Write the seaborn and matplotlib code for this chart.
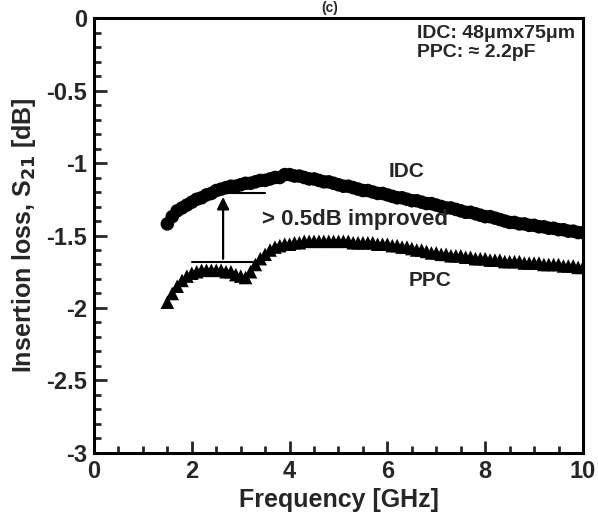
import numpy as np
import pandas as pd
import matplotlib
matplotlib.use('Agg')
import matplotlib.pyplot as plt
from matplotlib.ticker import MultipleLocator, FuncFormatter
import seaborn as sns

# frequency sweep [GHz]
freq = [1.5, 1.6, 1.7, 1.8, 1.9, 2.0, 2.1, 2.2, 2.3, 2.4,
        2.5, 2.6, 2.7, 2.8, 2.9, 3.0, 3.1, 3.2, 3.3, 3.4,
        3.5, 3.6, 3.7, 3.8, 3.9, 4.0, 4.1, 4.2, 4.3, 4.4,
        4.5, 4.6, 4.7, 4.8, 4.9, 5.0, 5.1, 5.2, 5.3, 5.4,
        5.5, 5.6, 5.7, 5.8, 5.9, 6.0, 6.1, 6.2, 6.3, 6.4,
        6.5, 6.6, 6.7, 6.8, 6.9, 7.0, 7.1, 7.2, 7.3, 7.4,
        7.5, 7.6, 7.7, 7.8, 7.9, 8.0, 8.1, 8.2, 8.3, 8.4,
        8.5, 8.6, 8.7, 8.8, 8.9, 9.0, 9.1, 9.2, 9.3, 9.4,
        9.5, 9.6, 9.7, 9.8, 9.9, 10.0]

s21_idc = [-1.42, -1.37, -1.33, -1.31, -1.29, -1.27, -1.25, -1.24, -1.22, -1.21,
           -1.19, -1.18, -1.17, -1.16, -1.16, -1.15, -1.14, -1.14, -1.13, -1.12,
           -1.12, -1.11, -1.10, -1.10, -1.08, -1.08, -1.09, -1.09, -1.10, -1.11,
           -1.11, -1.12, -1.13, -1.13, -1.14, -1.15, -1.16, -1.16, -1.17, -1.18,
           -1.19, -1.19, -1.20, -1.21, -1.21, -1.22, -1.23, -1.24, -1.24, -1.25,
           -1.26, -1.26, -1.27, -1.28, -1.28, -1.29, -1.30, -1.31, -1.31, -1.32,
           -1.33, -1.34, -1.34, -1.35, -1.36, -1.37, -1.37, -1.38, -1.39, -1.40,
           -1.41, -1.41, -1.42, -1.42, -1.43, -1.43, -1.44, -1.44, -1.45, -1.45,
           -1.46, -1.46, -1.47, -1.47, -1.48, -1.48]

s21_ppc = [-1.96, -1.90, -1.85, -1.81, -1.78, -1.76, -1.75, -1.74, -1.74, -1.74,
           -1.74, -1.74, -1.75, -1.75, -1.77, -1.78, -1.79, -1.75, -1.70, -1.66,
           -1.63, -1.60, -1.58, -1.57, -1.56, -1.56, -1.55, -1.55, -1.54, -1.54,
           -1.54, -1.54, -1.54, -1.54, -1.54, -1.54, -1.54, -1.54, -1.55, -1.55,
           -1.55, -1.55, -1.55, -1.56, -1.56, -1.56, -1.57, -1.57, -1.58, -1.58,
           -1.59, -1.60, -1.60, -1.61, -1.62, -1.62, -1.63, -1.63, -1.64, -1.64,
           -1.64, -1.65, -1.65, -1.66, -1.66, -1.66, -1.67, -1.67, -1.67, -1.68,
           -1.68, -1.68, -1.68, -1.69, -1.69, -1.69, -1.69, -1.70, -1.70, -1.70,
           -1.70, -1.71, -1.71, -1.71, -1.72, -1.72]

# improvement marker: reference levels [dB] and arrow position [GHz]
level_idc = -1.205
level_ppc = -1.68
arrow_f = 2.64


def main():
    sns.set_style('ticks')
    plt.rcParams['font.family'] = ['Liberation Sans', 'DejaVu Sans']
    plt.rcParams['font.weight'] = 'bold'
    plt.rcParams['mathtext.default'] = 'bf'

    df = pd.DataFrame({'f': freq * 2,
                       's21': s21_idc + s21_ppc,
                       'cap': ['IDC'] * len(freq) + ['PPC'] * len(freq)})

    fig = plt.figure(figsize=(5.98, 5.22), dpi=100)
    ax = fig.add_axes([0.1572, 0.1322, 0.8177, 0.8333])

    sns.scatterplot(data=df, x='f', y='s21', style='cap', markers={'IDC': 'o', 'PPC': '^'},
                    color='black', s=95, linewidth=0, legend=False, ax=ax)

    # > 0.5 dB improvement annotation
    ax.plot([arrow_f, 3.5], [level_idc, level_idc], color='black', lw=1.5)
    ax.plot([2.0, 3.3], [level_ppc, level_ppc], color='black', lw=1.5)
    ax.annotate('', xy=(arrow_f, level_idc - 0.01), xytext=(arrow_f, level_ppc),
                arrowprops=dict(arrowstyle='-|>', color='black', lw=1.6, mutation_scale=18))
    ax.text(3.43, -1.39, '> 0.5dB improved', fontsize=16, fontweight='bold', va='center')
    ax.text(6.4, -1.06, 'IDC', fontsize=15, fontweight='bold', ha='center', va='center')
    ax.text(6.88, -1.81, 'PPC', fontsize=15, fontweight='bold', ha='center', va='center')
    ax.text(6.6, -0.17, 'IDC: 48\u03bcmx75\u03bcm\nPPC: \u2248 2.2pF', fontsize=14,
            fontweight='bold', va='center', linespacing=1.15)

    ax.set_xlim(0, 10)
    ax.set_ylim(-3, 0)
    ax.xaxis.set_major_locator(MultipleLocator(2))
    ax.xaxis.set_minor_locator(MultipleLocator(0.5))
    ax.yaxis.set_major_locator(MultipleLocator(0.5))
    ax.yaxis.set_minor_locator(MultipleLocator(0.1))
    ax.yaxis.set_major_formatter(FuncFormatter(lambda v, p: '0' if v == 0 else '%g' % v))
    ax.tick_params(which='both', direction='in', top=False, right=False, width=2,
                   labelsize=17, pad=5)
    ax.tick_params(which='major', length=9)
    ax.tick_params(which='minor', length=5)
    for sp in ax.spines.values():
        sp.set_linewidth(2.2)
        sp.set_color('black')

    ax.set_xlabel('Frequency [GHz]', fontsize=18, fontweight='bold', labelpad=4)
    ax.set_ylabel('Insertion loss, S$_{21}$ [dB]', fontsize=18, fontweight='bold', labelpad=6)

    fig.text(0.552, 0.999, '(c)', fontsize=10, ha='center', va='top')

    fig.savefig('out.png', dpi=100)
    plt.close(fig)


if __name__ == "__main__":
    main()
